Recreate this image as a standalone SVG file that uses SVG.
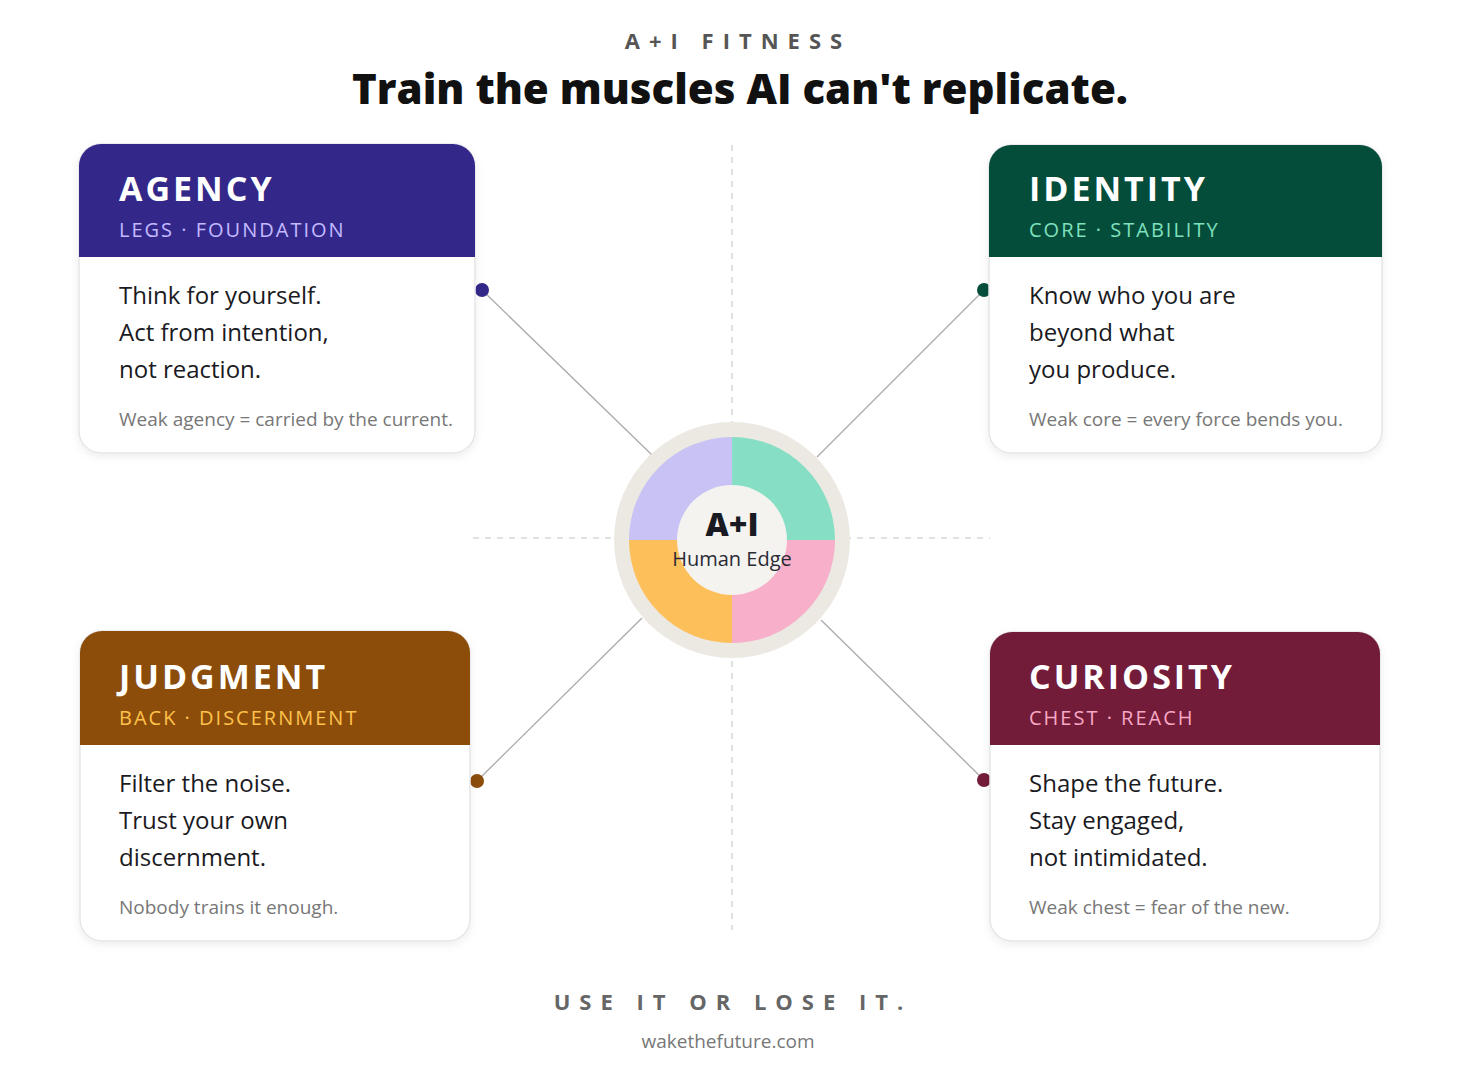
<svg xmlns="http://www.w3.org/2000/svg" width="1461" height="1076" viewBox="0 0 1461 1076">
<defs>
<style>
text{font-family:"Open Sans","Noto Sans","Liberation Sans",sans-serif}
.card{fill:#fff;stroke:#e6e6ea;stroke-width:1.5}
.h{font-size:34px;font-weight:700;fill:#fff;letter-spacing:3px}
.s{font-size:20px;letter-spacing:2px}
.b{font-size:24px;fill:#1a1a22}
.w{font-size:19px;fill:#777}
.dash{stroke:#d8d8d8;stroke-width:1.5;stroke-dasharray:6 6;fill:none}
.con{stroke:#aaa;stroke-width:1.3}
</style>
<filter id="sh" x="-10%" y="-10%" width="120%" height="130%"><feDropShadow dx="0" dy="3" stdDeviation="4" flood-color="#000" flood-opacity="0.07"/></filter>
</defs>
<rect width="1461" height="1076" fill="#fff"/>
<text x="738" y="49" text-anchor="middle" style="font-size:22px;font-weight:700;fill:#555;letter-spacing:9px">A+I FITNESS</text>
<text x="740" y="104" text-anchor="middle" style="font-size:42px;font-weight:800;fill:#111">Train the muscles AI can't replicate.</text>
<g id="guides">
<line class="dash" x1="732" y1="145" x2="732" y2="930"/>
<line class="dash" x1="473" y1="538" x2="990" y2="538"/>
</g>
<g id="connectors">
<line class="con" x1="482" y1="290" x2="652" y2="455"/>
<line class="con" x1="984" y1="290" x2="817" y2="457"/>
<line class="con" x1="477" y1="781" x2="642" y2="618"/>
<line class="con" x1="984" y1="780" x2="821" y2="620"/>
<circle cx="482" cy="290" r="7" fill="#33288a"/>
<circle cx="984" cy="290" r="7" fill="#044d3b"/>
<circle cx="477" cy="781" r="7" fill="#8c4d0b"/>
<circle cx="984" cy="780" r="7" fill="#731c3a"/>
</g>
<g id="hub">
<circle cx="732" cy="540" r="118" fill="#ece9e3"/>
<path d="M732 540 L732 437 A103 103 0 0 0 629 540 Z" fill="#c8c2f5"/>
<path d="M732 540 L835 540 A103 103 0 0 0 732 437 Z" fill="#86dec4"/>
<path d="M732 540 L629 540 A103 103 0 0 0 732 643 Z" fill="#fdbf59"/>
<path d="M732 540 L732 643 A103 103 0 0 0 835 540 Z" fill="#f7afca"/>
<circle cx="732" cy="540" r="55" fill="#f4f3f0"/>
<text x="732" y="536" text-anchor="middle" style="font-size:32px;font-weight:800;fill:#1a1a22">A+I</text>
<text x="732" y="566" text-anchor="middle" style="font-size:20px;fill:#2a2a35">Human Edge</text>
</g>
<g id="agency">
<rect class="card" x="79" y="144" width="396" height="309" rx="22" filter="url(#sh)"/>
<path d="M101 144 H453 A22 22 0 0 1 475 166 V257 H79 V166 A22 22 0 0 1 101 144 Z" fill="#33288a"/>
<text class="h" x="119" y="201">AGENCY</text>
<text class="s" x="119" y="237" fill="#c3b9ff">LEGS · FOUNDATION</text>
<text class="b" x="119" y="304">Think for yourself.</text>
<text class="b" x="119" y="341">Act from intention,</text>
<text class="b" x="119" y="378">not reaction.</text>
<text class="w" x="119" y="426">Weak agency = carried by the current.</text>
</g>
<g id="identity">
<rect class="card" x="989" y="145" width="393" height="308" rx="22" filter="url(#sh)"/>
<path d="M1011 145 H1360 A22 22 0 0 1 1382 167 V257 H989 V167 A22 22 0 0 1 1011 145 Z" fill="#044d3b"/>
<text class="h" x="1029" y="201">IDENTITY</text>
<text class="s" x="1029" y="237" fill="#7fe0bd">CORE · STABILITY</text>
<text class="b" x="1029" y="304">Know who you are</text>
<text class="b" x="1029" y="341">beyond what</text>
<text class="b" x="1029" y="378">you produce.</text>
<text class="w" x="1029" y="426">Weak core = every force bends you.</text>
</g>
<g id="judgment">
<rect class="card" x="80" y="631" width="390" height="310" rx="22" filter="url(#sh)"/>
<path d="M102 631 H448 A22 22 0 0 1 470 653 V745 H80 V653 A22 22 0 0 1 102 631 Z" fill="#8c4d0b"/>
<text class="h" x="119" y="689">JUDGMENT</text>
<text class="s" x="119" y="725" fill="#ffc24a">BACK · DISCERNMENT</text>
<text class="b" x="119" y="792">Filter the noise.</text>
<text class="b" x="119" y="829">Trust your own</text>
<text class="b" x="119" y="866">discernment.</text>
<text class="w" x="119" y="914">Nobody trains it enough.</text>
</g>
<g id="curiosity">
<rect class="card" x="990" y="632" width="390" height="309" rx="22" filter="url(#sh)"/>
<path d="M1012 632 H1358 A22 22 0 0 1 1380 654 V745 H990 V654 A22 22 0 0 1 1012 632 Z" fill="#731c3a"/>
<text class="h" x="1029" y="689">CURIOSITY</text>
<text class="s" x="1029" y="725" fill="#f7a8c4">CHEST · REACH</text>
<text class="b" x="1029" y="792">Shape the future.</text>
<text class="b" x="1029" y="829">Stay engaged,</text>
<text class="b" x="1029" y="866">not intimidated.</text>
<text class="w" x="1029" y="914">Weak chest = fear of the new.</text>
</g>
<text x="733" y="1010" text-anchor="middle" style="font-size:22px;font-weight:700;fill:#666;letter-spacing:9px">USE IT OR LOSE IT.</text>
<text x="728" y="1048" text-anchor="middle" style="font-size:19px;fill:#777">wakethefuture.com</text>
</svg>
